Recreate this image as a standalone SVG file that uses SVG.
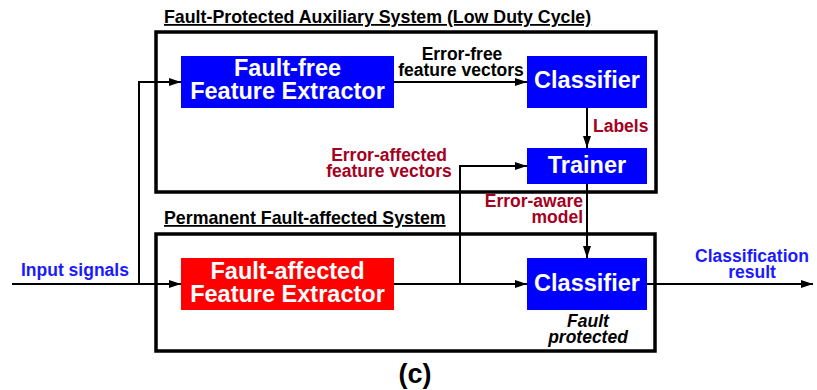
<svg xmlns="http://www.w3.org/2000/svg" width="817" height="390" viewBox="0 0 817 390">
  <style>
    .frame { fill: none; stroke: #000; stroke-width: 3.5; }
    .blk { stroke: none; }
    .blue { fill: #0000ff; }
    .red { fill: #ff0000; }
    .ntext { font-family: "Liberation Sans", Arial, sans-serif; font-weight: bold; font-size: 23.5px; fill: #fff; text-anchor: middle; }
    .title { font-family: "Liberation Sans", Arial, sans-serif; font-weight: bold; font-size: 17.8px; fill: #000; text-decoration: underline; }
    .lbl { font-family: "Liberation Sans", Arial, sans-serif; font-weight: bold; font-size: 17.5px; }
    .dark { fill: #a50021; }
    .ink { fill: #000; }
    .io { fill: #1a1aff; }
    .it { font-style: italic; }
    .big { font-size: 27px; }
    .wire { fill: none; stroke: #000; stroke-width: 2; }
  </style>
  <defs>
    <marker id="arr" viewBox="0 0 12 8" refX="12" refY="4" markerWidth="12" markerHeight="8" markerUnits="userSpaceOnUse" orient="auto">
      <path d="M0,0 L12,4 L0,8 Z" fill="#000"/>
    </marker>
  </defs>

  <rect width="817" height="390" fill="#fff"/>

  <!-- subsystem frames -->
  <g id="aux-system">
    <rect class="frame" x="156" y="32" width="500" height="160"/>
    <text class="title" x="164" y="23">Fault-Protected Auxiliary System (Low Duty Cycle)</text>
  </g>
  <g id="main-system">
    <rect class="frame" x="156" y="234" width="499" height="117"/>
    <text class="title" x="164" y="224">Permanent Fault-affected System</text>
  </g>

  <!-- connectors -->
  <g id="connectors">
    <path class="wire" d="M12,284 L181,284" marker-end="url(#arr)"/>
    <path class="wire" d="M139,284 L139,82 L181,82" marker-end="url(#arr)"/>
    <path class="wire" d="M394,82 L527,82" marker-end="url(#arr)"/>
    <path class="wire" d="M587,108 L587,148" marker-end="url(#arr)"/>
    <path class="wire" d="M394,284 L527,284" marker-end="url(#arr)"/>
    <path class="wire" d="M460,284 L460,166 L527,166" marker-end="url(#arr)"/>
    <path class="wire" d="M587,184 L587,258" marker-end="url(#arr)"/>
    <path class="wire" d="M647,284 L813,284" marker-end="url(#arr)"/>
  </g>

  <!-- nodes -->
  <g id="ff-extractor">
    <rect class="blk blue" x="181" y="56" width="213" height="52"/>
    <text class="ntext" x="287.5" y="76">Fault-free</text>
    <text class="ntext" x="287.5" y="99">Feature Extractor</text>
  </g>
  <g id="aux-classifier">
    <rect class="blk blue" x="527" y="56" width="120" height="52"/>
    <text class="ntext" x="587" y="88">Classifier</text>
  </g>
  <g id="trainer">
    <rect class="blk blue" x="527" y="148" width="120" height="36"/>
    <text class="ntext" x="587" y="173">Trainer</text>
  </g>
  <g id="fa-extractor">
    <rect class="blk red" x="181" y="258" width="213" height="52"/>
    <text class="ntext" x="287.5" y="279">Fault-affected</text>
    <text class="ntext" x="287.5" y="302">Feature Extractor</text>
  </g>
  <g id="main-classifier">
    <rect class="blk blue" x="527" y="258" width="120" height="52"/>
    <text class="ntext" x="587" y="291">Classifier</text>
    <text class="lbl ink it" x="588" y="327" text-anchor="middle">Fault</text>
    <text class="lbl ink it" x="588" y="343" text-anchor="middle">protected</text>
  </g>

  <!-- connector labels -->
  <g id="labels">
    <text class="lbl ink" x="462" y="60" text-anchor="middle">Error-free</text>
    <text class="lbl ink" x="461" y="76" text-anchor="middle">feature vectors</text>
    <text class="lbl dark" x="593" y="132">Labels</text>
    <text class="lbl dark" x="389" y="161" text-anchor="middle">Error-affected</text>
    <text class="lbl dark" x="389" y="177" text-anchor="middle">feature vectors</text>
    <text class="lbl dark" x="583" y="207" text-anchor="end">Error-aware</text>
    <text class="lbl dark" x="583" y="223" text-anchor="end">model</text>
    <text class="lbl io" x="21" y="276">Input signals</text>
    <text class="lbl io" x="752" y="262" text-anchor="middle">Classification</text>
    <text class="lbl io" x="752" y="278" text-anchor="middle">result</text>
    <text class="lbl ink big" x="415" y="383" text-anchor="middle">(c)</text>
  </g>
</svg>
